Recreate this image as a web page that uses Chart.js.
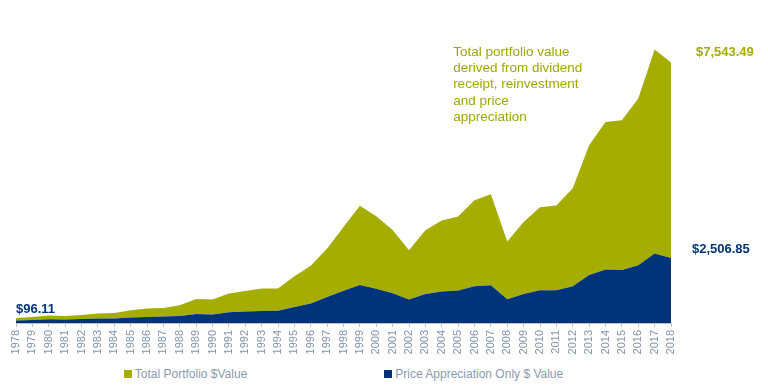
<!DOCTYPE html>
<html>
<head>
<meta charset="utf-8">
<script src="https://cdn.jsdelivr.net/npm/chart.js@4.4.1/dist/chart.umd.min.js"></script>
<style>
    body { margin: 0; background: #fff; font-family: "Liberation Sans", Arial, sans-serif; }
    #wrap { position: relative; width: 768px; height: 386px; }
    #chartBox { position: absolute; left: 0; top: 0; width: 768px; height: 360px; }
    #legend { position: absolute; left: 16px; width: 655px; top: 367px; display: flex; justify-content: center; gap: 137px; font-size: 12px; color: #8a9aae; }
    #legend span.item { display: flex; align-items: center; white-space: nowrap; }
    #legend span.box { width: 8px; height: 8px; margin-right: 3px; display: inline-block; }
</style>
</head>
<body>
<div id="wrap">
    <div id="chartBox"><canvas id="portfolioChart"></canvas></div>
    <div id="legend"></div>
</div>
<script>
const years = ['1978', '1979', '1980', '1981', '1982', '1983', '1984', '1985', '1986', '1987',
    '1988', '1989', '1990', '1991', '1992', '1993', '1994', '1995', '1996', '1997',
    '1998', '1999', '2000', '2001', '2002', '2003', '2004', '2005', '2006', '2007',
    '2008', '2009', '2010', '2011', '2012', '2013', '2014', '2015', '2016', '2017', '2018'];

const priceOnlyValues = [96.11, 116, 143, 131, 154, 170, 170, 208, 232, 247,
    270, 347, 324, 413, 440, 463, 471, 618, 749, 1004,
    1243, 1463, 1320, 1146, 903, 1119, 1212, 1251, 1417, 1455,
    915, 1119, 1262, 1262, 1417, 1853, 2061, 2046, 2227, 2679, 2506.85];

const totalPortfolioValues = [96.11, 116, 143, 139, 154, 193, 216, 282, 324, 332,
    413, 575, 579, 722, 795, 865, 857, 1185, 1459, 1868,
    2463, 3061, 2799, 2443, 1903, 2459, 2741, 2856, 3320, 3513,
    2227, 2779, 3204, 3273, 3783, 5006, 5697, 5778, 6435, 7874, 7543.49];

const noteLines = ['Total portfolio value', 'derived from dividend', 'receipt, reinvestment', 'and price', 'appreciation'];

const oliveColor = '#a4ad00';
const navyColor = '#00337a';

// labels for start / end values and the note block
const annotationPlugin = {
    id: 'annotations',
    afterDraw: function (chart) {
        const ctx = chart.ctx;
        const x = chart.scales.x;
        const y = chart.scales.y;
        const last = years.length - 1;
        ctx.save();
        ctx.textBaseline = 'middle';
        ctx.textAlign = 'left';

        ctx.font = 'bold 13px "Liberation Sans", Arial, sans-serif';
        ctx.fillStyle = navyColor;
        ctx.fillText('$96.11', x.getPixelForValue(0), y.getPixelForValue(priceOnlyValues[0] + totalPortfolioValues[0]) - 9);

        ctx.fillStyle = oliveColor;
        ctx.fillText('$7,543.49', x.getPixelForValue(last) + 25, y.getPixelForValue(priceOnlyValues[last] + totalPortfolioValues[last]) - 10);

        ctx.fillStyle = navyColor;
        ctx.fillText('$2,506.85', x.getPixelForValue(last) + 21, y.getPixelForValue(priceOnlyValues[last]) - 9);

        ctx.font = '13.5px "Liberation Sans", Arial, sans-serif';
        ctx.fillStyle = '#a0a800';
        const noteX = x.getPixelForValue(years.indexOf('2005')) - 5;
        noteLines.forEach(function (line, i) {
            ctx.fillText(line, noteX, chart.chartArea.top + 40 + i * 16.3);
        });
        ctx.restore();
    }
};

loadPortfolioChart();

function loadPortfolioChart() {
    const ctx = document.getElementById('portfolioChart').getContext('2d');

    window.portfolioChart = new Chart(ctx, {
        type: 'line',
        data: {
            labels: years,
            datasets: [{
                label: 'Price Appreciation Only $ Value',
                data: priceOnlyValues,
                backgroundColor: navyColor,
                borderColor: navyColor,
                borderWidth: 0,
                pointRadius: 0,
                fill: 'origin',
                tension: 0
            }, {
                label: 'Total Portfolio $Value',
                data: totalPortfolioValues,
                backgroundColor: oliveColor,
                borderColor: oliveColor,
                borderWidth: 0,
                pointRadius: 0,
                fill: '-1',
                tension: 0
            }]
        },
        options: {
            responsive: true,
            maintainAspectRatio: false,
            animation: false,
            layout: {
                padding: { left: 16, right: 97, top: 12, bottom: 0 }
            },
            scales: {
                x: {
                    offset: false,
                    grid: { display: true, drawOnChartArea: false, tickLength: 4, color: '#bfbfbf', offset: false },
                    border: { display: true, color: '#bfbfbf' },
                    ticks: {
                        autoSkip: false,
                        maxRotation: 90,
                        minRotation: 90,
                        padding: 3,
                        color: '#8394aa',
                        font: { family: '"Liberation Sans", Arial, sans-serif', size: 11 }
                    },
                    afterFit: function (scale) { scale.height = 37; }
                },
                y: {
                    display: false,
                    stacked: true,
                    min: 0,
                    max: 12000
                }
            },
            plugins: {
                legend: { display: false },
                tooltip: { enabled: false }
            }
        },
        plugins: [annotationPlugin]
    });

    buildLegend(window.portfolioChart);
}

function buildLegend(chart) {
    const items = chart.data.datasets.slice().reverse().map(function (ds) {
        return `<span class="item"><span class="box" style="background:${ds.backgroundColor}"></span>${ds.label}</span>`;
    });
    document.getElementById('legend').innerHTML = items.join('');
}
</script>
</body>
</html>
